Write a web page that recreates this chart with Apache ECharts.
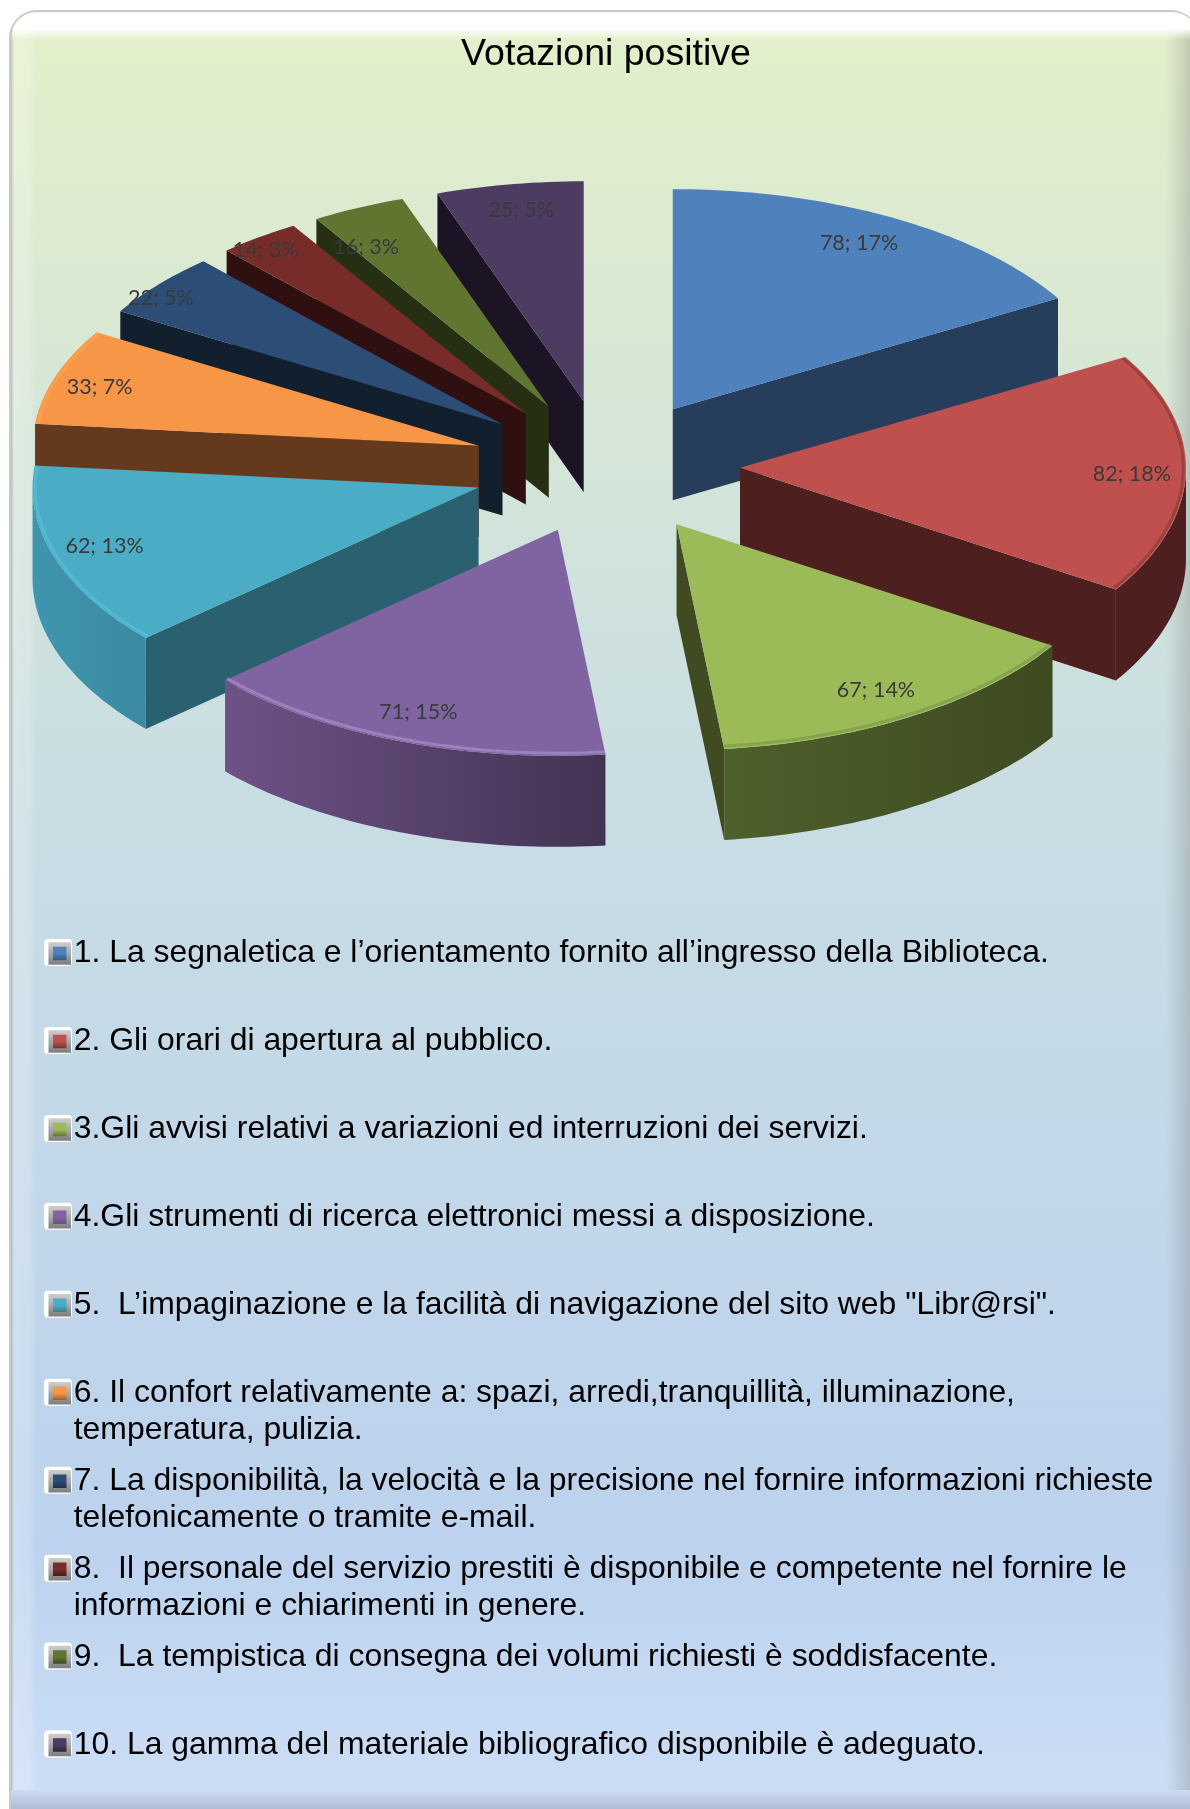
<!DOCTYPE html>
<html><head><meta charset="utf-8">
<style>html,body{margin:0;padding:0;background:#fff}#c{width:1190px;height:1809px}</style>
<script src="https://cdn.jsdelivr.net/npm/echarts@6/dist/echarts.min.js"></script>
</head><body><div id="c"></div>
<script>
const titleText = 'Votazioni positive';
const categories = [
 '1. La segnaletica e l’orientamento fornito all’ingresso della Biblioteca.',
 '2. Gli orari di apertura al pubblico.',
 '3.Gli avvisi relativi a variazioni ed interruzioni dei servizi.',
 '4.Gli strumenti di ricerca elettronici messi a disposizione.',
 '5.  L’impaginazione e la facilità di navigazione del sito web "Libr@rsi".',
 '6. Il confort relativamente a: spazi, arredi,tranquillità, illuminazione,\ntemperatura, pulizia.',
 '7. La disponibilità, la velocità e la precisione nel fornire informazioni richieste\ntelefonicamente o tramite e-mail.',
 '8.  Il personale del servizio prestiti è disponibile e competente nel fornire le\ninformazioni e chiarimenti in genere.',
 '9.  La tempistica di consegna dei volumi richiesti è soddisfacente.',
 '10. La gamma del materiale bibliografico disponibile è adeguato.'
];
const values = [78, 82, 67, 71, 62, 33, 22, 14, 16, 25];
const percentLabels = [17, 18, 14, 15, 13, 7, 5, 3, 3, 5];

const topColors  = ['#4f81bd','#c0504d','#9bbb59','#8064a2','#4bacc6','#f79646','#2c4d75','#772c2a','#5f7530','#4d3b62'];
const wallColors = ['#263d5c','#4d1f1f','#404b21','#5a4270','#2a606f','#65391b','#111f2e','#2f0f0f','#262f11','#1c1325'];
const arcLeft    = ['#263d5c','#4d1f1f','#4e602c','#6d5287','#4096af','#65391b','#111f2e','#2f0f0f','#262f11','#1c1325'];
const arcRight   = ['#263d5c','#4d1f1f','#3e4a20','#433353','#3a8aa0','#65391b','#111f2e','#2f0f0f','#262f11','#1c1325'];
const edgeColors = [null,'#8f3b39','#7f9a48','#a98bc9','#52bfdc','#ffa44f',null,null,null,null];
const labelNudge = [[-7,0],[4,2],[-5,-1],[0,-1],[-5,-2],[-11,2],[-42,-5],[-28,-10],[-17,13],[2,-3]];

const CX = 606, CY = 466.5, RX = 446, RY_BACK = 220, RY_FRONT = 226, EXPLODE = 134, DEPTH = 91;
const total = values.reduce((a, b) => a + b, 0);
const TAU = Math.PI * 2;
let run = 0;
const spans = values.map(v => { const a0 = run / total * TAU; run += v; return [a0, run / total * TAU]; });

function proj(ox, oy, a, f) {
  const c = Math.cos(a);
  return [ox + RX * f * Math.sin(a), oy - (c >= 0 ? RY_BACK : RY_FRONT) * f * c];
}
function apex(i) {
  const m = (spans[i][0] + spans[i][1]) / 2;
  return proj(CX, CY, m, EXPLODE / RX);
}
function arcPts(i, from, to) {
  const o = apex(i), pts = [];
  const n = Math.max(2, Math.ceil((to - from) / 0.02));
  for (let k = 0; k <= n; k++) pts.push(proj(o[0], o[1], from + (to - from) * k / n, 1));
  return pts;
}
const down = p => [p[0], p[1] + DEPTH];

function renderSlice(i) {
  return function () {
    const [a0, a1] = spans[i], o = apex(i), kids = [];
    const p0 = proj(o[0], o[1], a0, 1), p1 = proj(o[0], o[1], a1, 1);
    const wall = (a, b) => kids.push({ type: 'polygon', shape: { points: [a, b, down(b), down(a)] },
      style: { fill: wallColors[i] } });
    if (Math.sin(a0) < 0) wall(o, p0);
    if (Math.sin(a1) > 0) wall(o, p1);
    const f = Math.max(a0, Math.PI / 2), t = Math.min(a1, Math.PI * 1.5);
    if (t > f) {
      const arc = arcPts(i, f, t);
      kids.push({ type: 'polygon',
        shape: { points: arc.concat(arc.map(down).reverse()) },
        style: { fill: new echarts.graphic.LinearGradient(0, 0, 1, 0,
          [{ offset: 0, color: arcLeft[i] }, { offset: 1, color: arcRight[i] }]) } });
    }
    const rim = arcPts(i, a0, a1);
    kids.push({ type: 'polygon', shape: { points: [o].concat(rim) }, style: { fill: topColors[i] } });
    if (edgeColors[i]) {
      const lit = arcPts(i, a0, a1).map(p => [p[0] + (o[0] - p[0]) * 0.006, p[1] + (o[1] - p[1]) * 0.012]);
      kids.push({ type: 'polyline', shape: { points: lit },
        style: { fill: null, stroke: edgeColors[i], lineWidth: 3, opacity: 0.7 } });
    }
    return { type: 'group', children: kids };
  };
}
function renderLabel(params, api) {
  const i = params.dataIndex, m = (spans[i][0] + spans[i][1]) / 2, o = apex(i);
  const p = proj(o[0], o[1], m, 0.87);
  return { type: 'text', x: p[0] + labelNudge[i][0], y: p[1] + labelNudge[i][1],
    style: { text: api.value(0) + '; ' + percentLabels[i] + '%', fill: '#3a3a3a',
      font: '21.5px Lato, "Open Sans", sans-serif', align: 'center', verticalAlign: 'middle' } };
}

const ROW0 = 953.5, ROW_PITCH = 87.95, LEGEND_FONT = 31.9, LINE = 37;
const drawOrder = values.map((_, i) => i).sort((p, q) =>
  Math.cos((spans[q][0] + spans[q][1]) / 2) - Math.cos((spans[p][0] + spans[p][1]) / 2));

const sliceSeries = values.map((v, i) => ({
  type: 'custom', name: categories[i], coordinateSystem: 'none', silent: true,
  z: 3 + drawOrder.indexOf(i) / 20, data: [[v]], renderItem: renderSlice(i),
  itemStyle: { color: topColors[i] }, animation: false
}));
const labelSeries = { type: 'custom', name: 'labels', coordinateSystem: 'none', silent: true, z: 5,
  data: values.map(v => [v]), renderItem: renderLabel, animation: false };

const vStops = (a, b, c) => ({ type: 'linear', x: 0, y: 0, x2: 0, y2: 1,
  colorStops: [{ offset: 0, color: a }, { offset: 0.5, color: b }, { offset: 1, color: c }] });
const legends = categories.map((name, i) => {
  const wrapped = name.includes('\n');
  return {
    data: [{ name, icon: 'rect', itemStyle: {
      color: vStops(topColors[i], topColors[i], wallColors[i]),
      borderColor: vStops('#cfcfcf', '#a8a8a8', '#7d7d7d'), borderWidth: 4.5 } }],
    left: 48.5, top: ROW0 + i * ROW_PITCH - (wrapped ? LINE * 1.5 : LINE / 2), padding: 0,
    itemWidth: 18, itemHeight: 18, selectedMode: false,
    formatter: n => (n.includes('\n') ? ' \n' : '') + n,
    textStyle: { color: '#000', fontFamily: '"Liberation Sans", Arial, sans-serif', fontSize: LEGEND_FONT, lineHeight: LINE }
  };
});

const swatches = categories.map((_, i) => ({
  type: 'rect', z: 3, silent: true,
  shape: { x: 44, y: ROW0 + i * ROW_PITCH - 14.5, width: 28, height: 27, r: 4 }, style: { fill: '#fff' }
}));
const V = (stops) => new echarts.graphic.LinearGradient(0, 0, 0, 1, stops.map(s => ({ offset: s[0], color: s[1] })));
const H = (stops) => new echarts.graphic.LinearGradient(0, 0, 1, 0, stops.map(s => ({ offset: s[0], color: s[1] })));
const frame = [
  { type: 'rect', z: 0, silent: true, shape: { x: 9, y: 10, width: 1190, height: 1830, r: 28 },
    style: { fill: '#c9c9c9' } },
  { type: 'rect', z: 0, silent: true, shape: { x: 11, y: 12, width: 1187, height: 1827, r: 26 },
    style: { fill: V([[0, '#e3f0c9'], [0.42, '#c9dde3'], [0.84, '#bcd2ee'], [1, '#cfe0f7']]) } },
  { type: 'rect', z: 1, silent: true, shape: { x: 11, y: 30, width: 26, height: 1760 },
    style: { fill: H([[0, 'rgba(120,120,120,0.35)'], [0.12, 'rgba(255,255,255,0.25)'], [0.7, 'rgba(255,255,255,0.2)'], [1, 'rgba(255,255,255,0)']]) } },
  { type: 'rect', z: 1, silent: true, shape: { x: 1166, y: 30, width: 24, height: 1760 },
    style: { fill: H([[0, 'rgba(120,120,120,0)'], [1, 'rgba(120,120,120,0.3)']]) } },
  { type: 'rect', z: 1, silent: true, shape: { x: 11, y: 12, width: 1187, height: 28, r: [26, 26, 0, 0] },
    style: { fill: V([[0, 'rgba(255,255,255,0.7)'], [0.12, 'rgba(255,255,255,1)'], [0.6, 'rgba(255,255,255,0.95)'], [1, 'rgba(255,255,255,0)']]) } },
  { type: 'rect', z: 1, silent: true, shape: { x: 11, y: 1789, width: 1187, height: 20 },
    style: { fill: V([[0, 'rgba(130,140,160,0)'], [1, 'rgba(130,140,160,0.4)']]) } }
];

const chart = echarts.init(document.getElementById('c'), null, { renderer: 'canvas', width: 1190, height: 1809 });
chart.setOption({
  animation: false,
  backgroundColor: '#fff',
  title: { text: titleText, left: 601, textAlign: 'center', top: 31,
    textStyle: { color: '#000', fontWeight: 'normal', fontFamily: '"Liberation Sans", Arial, sans-serif', fontSize: 37.5 } },
  legend: legends,
  graphic: { elements: frame.concat(swatches) },
  series: sliceSeries.concat([labelSeries])
});
</script></body></html>
